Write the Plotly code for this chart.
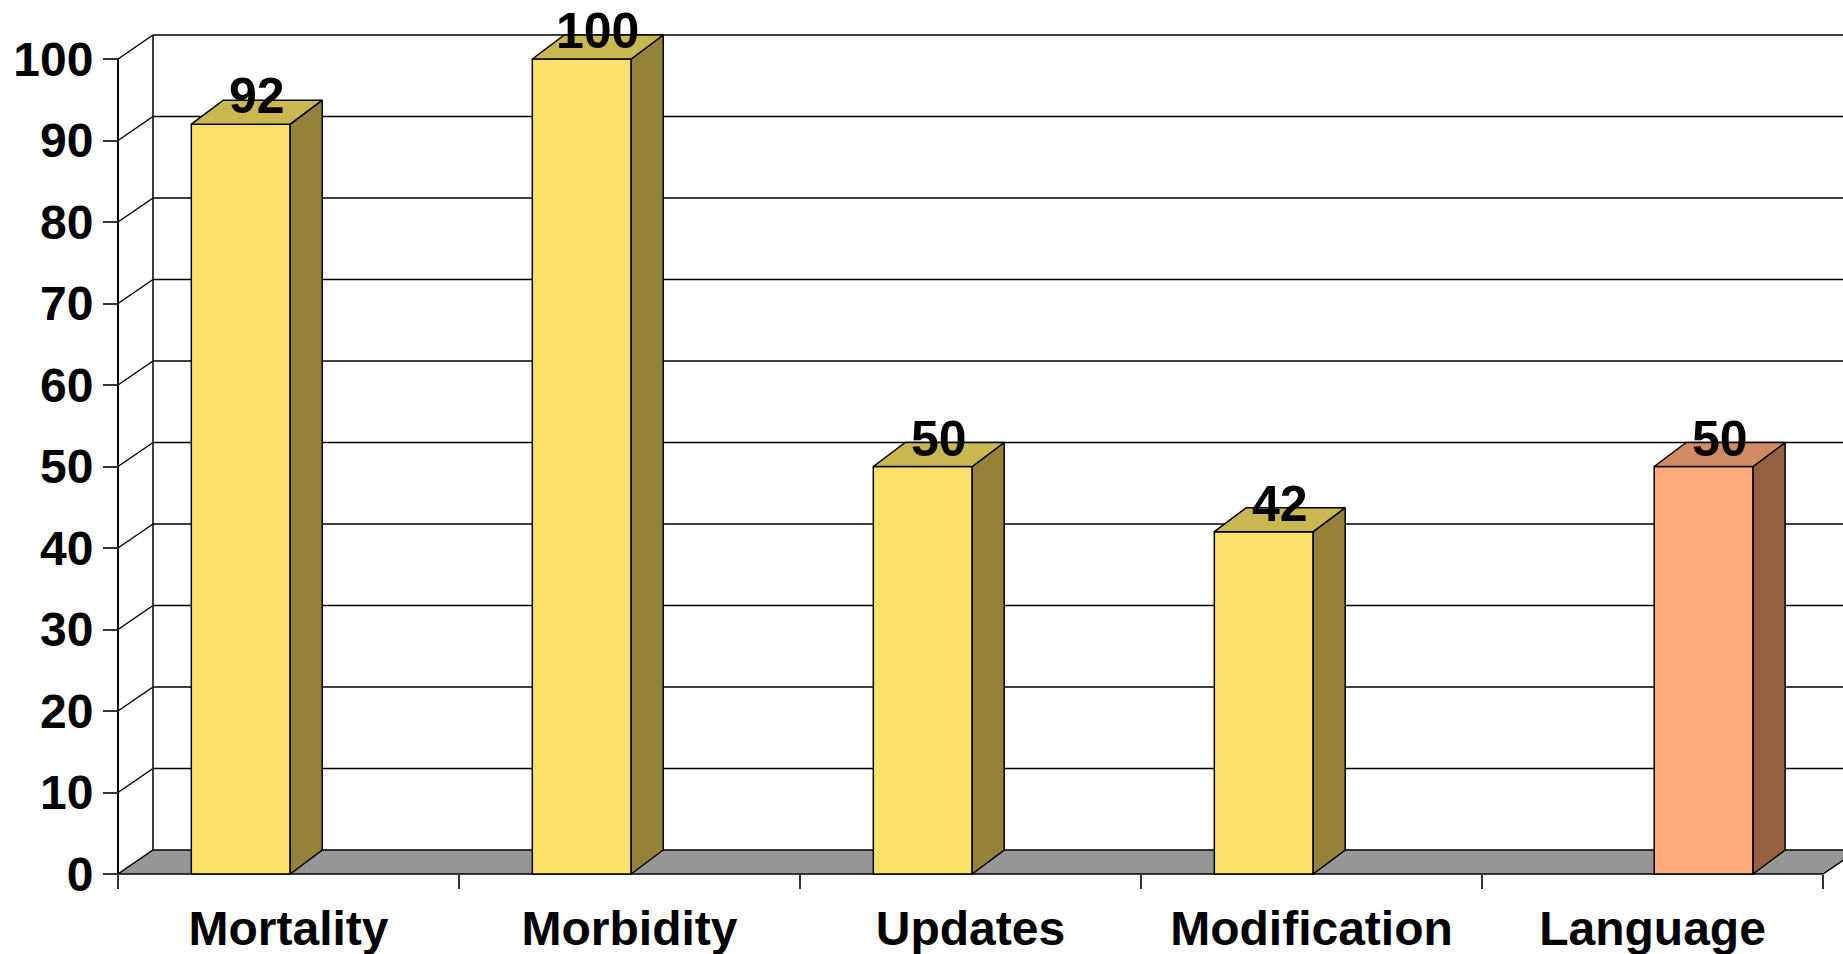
import plotly.graph_objects as go

# ---------------- data ----------------
categories = ["Mortality", "Morbidity", "Updates", "Modification", "Language"]
series_yellow = [92, 100, 50, 42, None]
series_orange = [None, None, None, None, 50]
y_ticks = [0, 10, 20, 30, 40, 50, 60, 70, 80, 90, 100]

# ---------------- geometry (pixels) ----------------
W, H = 1843, 954
PL, PR, PT, PB = 90, 1843, 0, 880     # plot area in px
X0PX, Y0PX, Y100PX = 118, 874, 59     # front-left corner, floor, 100-level
CATPX = 341.0                           # category width px

xpu = CATPX
ypu = (Y0PX - Y100PX) / 100.0
x_left = -0.5 - (X0PX - PL) / xpu
x_right = x_left + (PR - PL) / xpu
y_bottom = -(PB - Y0PX) / ypu
y_top = y_bottom + (PB - PT) / ypu

fdx, fdy = 35 / xpu, 24 / ypu    # floor / wall depth
bdx, bdy = 32 / xpu, 24 / ypu    # bar depth
BW = 0.29
OFF_Y, OFF_O = -0.285, 0.005

FONT = "Liberation Sans, Arial, sans-serif"
n = len(categories)
xs = list(range(n))

fig = go.Figure()


def faces(values, offset):
    sx, sy, tx, ty = [], [], [], []
    for i, v in enumerate(values):
        if v is None:
            continue
        xl = i + offset
        xr = xl + BW
        sx += [xr, xr + bdx, xr + bdx, xr, xr, None]
        sy += [0, bdy, v + bdy, v, 0, None]
        tx += [xl, xr, xr + bdx, xl + bdx, xl, None]
        ty += [v, v, v + bdy, v + bdy, v, None]
    return sx, sy, tx, ty


for vals, off, front, side, top in [
    (series_yellow, OFF_Y, "#FAE26A", "#938238", "#C9B751"),
    (series_orange, OFF_O, "#FDAB7A", "#965F42", "#D08B62"),
]:
    fig.add_trace(go.Bar(
        x=xs, y=vals, offset=off, width=BW,
        marker=dict(color=front, line=dict(color="black", width=1.5)),
        showlegend=False, hoverinfo="skip"))
    sx, sy, tx, ty = faces(vals, off)
    fig.add_trace(go.Scatter(x=sx, y=sy, mode="lines", fill="toself",
                             fillcolor=side, line=dict(color="black", width=1.5),
                             showlegend=False, hoverinfo="skip"))
    fig.add_trace(go.Scatter(x=tx, y=ty, mode="lines", fill="toself",
                             fillcolor=top, line=dict(color="black", width=1.5),
                             showlegend=False, hoverinfo="skip"))

# value labels
for vals, off in [(series_yellow, OFF_Y), (series_orange, OFF_O)]:
    for i, v in enumerate(vals):
        if v is None:
            continue
        fig.add_annotation(x=i + off + BW / 2 + bdx / 2, y=v + 28 / ypu,
                           text=str(v), showarrow=False, yanchor="middle",
                           xanchor="center",
                           font=dict(family=FONT, size=50, color="black", weight="bold"))

# floor, walls and gridlines (behind the bars)
shapes = []
xa, xb = -0.5, n - 0.5
shapes.append(dict(type="path", layer="below", xref="x", yref="y",
                   path=f"M {xa},0 L {xb},0 L {xb+fdx},{fdy} L {xa+fdx},{fdy} Z",
                   fillcolor="#969696", line=dict(color="black", width=1.5)))
for v in y_ticks:
    if v > 0:
        shapes.append(dict(type="line", layer="below", xref="x", yref="y",
                           x0=xa + fdx, y0=v + fdy, x1=x_right + 1, y1=v + fdy,
                           line=dict(color="black", width=1.5)))
        shapes.append(dict(type="line", layer="below", xref="x", yref="y",
                           x0=xa, y0=v, x1=xa + fdx, y1=v + fdy,
                           line=dict(color="black", width=1.5)))
shapes.append(dict(type="line", layer="below", xref="x", yref="y",
                   x0=xa + fdx, y0=fdy, x1=xa + fdx, y1=y_ticks[-1] + fdy,
                   line=dict(color="black", width=1.5)))
shapes.append(dict(type="line", layer="below", xref="x", yref="y",
                   x0=xa, y0=0, x1=xa, y1=y_ticks[-1],
                   line=dict(color="black", width=2)))

fig.update_layout(
    width=W, height=H,
    margin=dict(l=PL, r=W - PR, t=PT, b=H - PB, pad=0),
    paper_bgcolor="white", plot_bgcolor="white",
    barmode="overlay", hovermode=False, showlegend=False,
    shapes=shapes,
    xaxis=dict(range=[x_left, x_right], anchor="free",
               position=(PB - Y0PX) / (PB - PT),
               tickmode="array", tickvals=xs, ticktext=categories,
               ticks="", showgrid=False, zeroline=False, showline=False,
               ticklabelstandoff=22,
               tickfont=dict(family=FONT, size=48, color="black", weight="bold"),
               minor=dict(tickmode="array", tickvals=[i - 0.5 for i in range(n + 1)],
                          ticks="outside", ticklen=14, tickwidth=1.5,
                          tickcolor="#333333", showgrid=False),
               automargin=False, fixedrange=True),
    yaxis=dict(range=[y_bottom, y_top], anchor="free",
               position=(X0PX - PL) / (PR - PL),
               tickmode="array", tickvals=y_ticks,
               ticks="outside", ticklen=15, tickwidth=1.5, tickcolor="#333333",
               showgrid=False, zeroline=False, showline=False,
               tickfont=dict(family=FONT, size=48, color="black", weight="bold"),
               automargin=False, fixedrange=True),
)

fig.write_html("out.html", config={"displayModeBar": False},
               post_script="document.body.style.margin='0';document.body.style.overflow='hidden';")
